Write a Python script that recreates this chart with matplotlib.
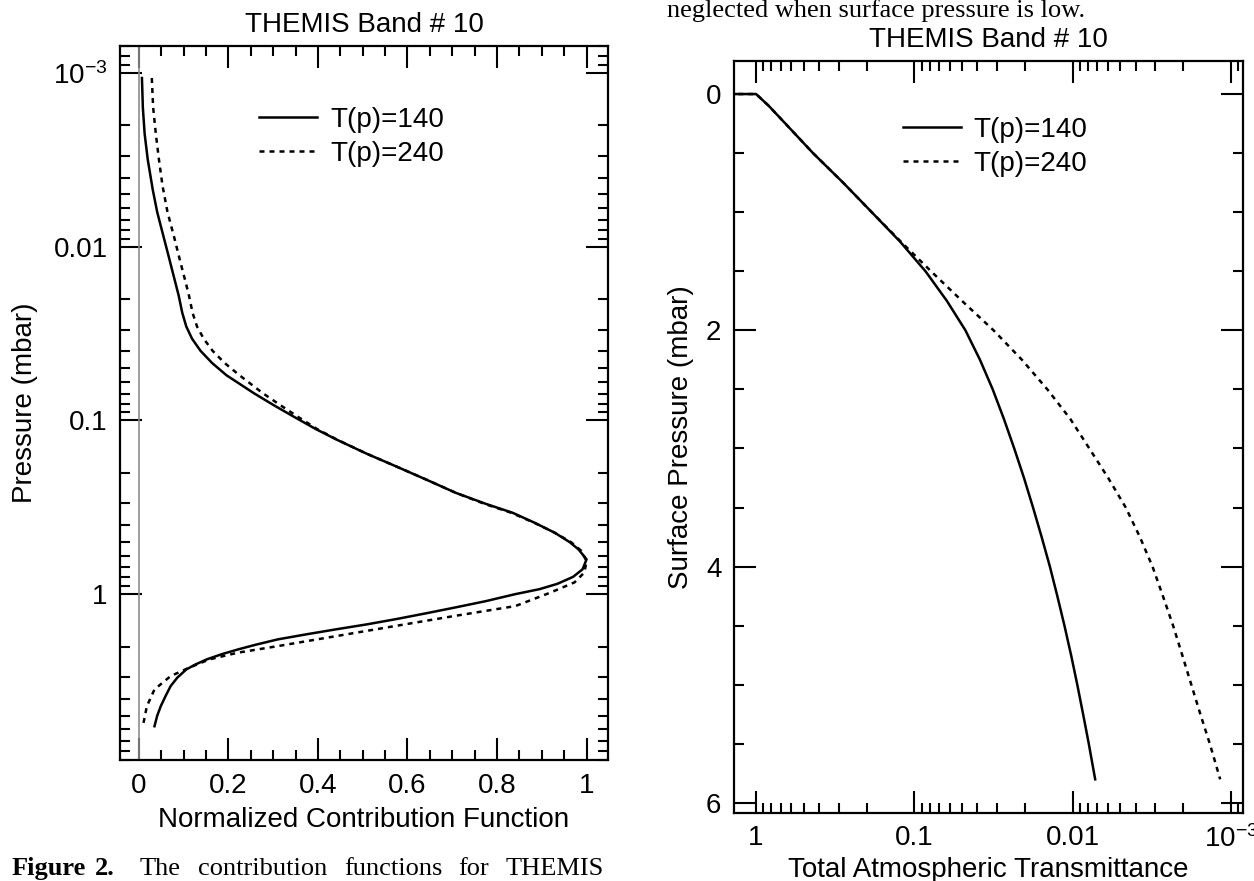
import matplotlib
matplotlib.use('Agg')
import matplotlib.pyplot as plt
from matplotlib.ticker import FixedLocator, FixedFormatter, MultipleLocator, LogLocator, NullFormatter

plt.rcParams['font.family'] = ['Liberation Sans', 'DejaVu Sans']
plt.rcParams['mathtext.fontset'] = 'custom'
plt.rcParams['mathtext.rm'] = 'Liberation Sans'
plt.rcParams['mathtext.it'] = 'Liberation Sans:italic'
plt.rcParams['axes.unicode_minus'] = False

# left panel: normalized contribution function vs pressure (mbar)
cf_p_140 = [1.07e-3, 1.58e-3, 2.24e-3, 3.16e-3, 4.68e-3, 6.31e-3, 8.32e-3, 0.0112, 0.0148, 0.0191,
            0.0240, 0.0288, 0.0339, 0.0398, 0.0468, 0.0550, 0.0697, 0.0813, 0.0948, 0.112,
            0.129, 0.155, 0.184, 0.219, 0.261, 0.302, 0.340, 0.389, 0.443, 0.501,
            0.552, 0.630, 0.719, 0.794, 0.871, 0.935, 1.0, 1.096, 1.19, 1.29,
            1.39, 1.49, 1.59, 1.70, 1.82, 1.95, 2.07, 2.21, 2.37, 2.54,
            2.71, 3.02, 3.38, 3.89, 4.41, 5.01, 5.75]
cf_140 = [0.007, 0.009, 0.013, 0.020, 0.031, 0.041, 0.053, 0.066, 0.078, 0.089,
          0.097, 0.106, 0.119, 0.138, 0.164, 0.196, 0.257, 0.300, 0.345, 0.395,
          0.442, 0.508, 0.575, 0.642, 0.708, 0.775, 0.835, 0.885, 0.929, 0.962,
          0.982, 1.0, 0.991, 0.970, 0.935, 0.895, 0.84, 0.775, 0.708, 0.64,
          0.575, 0.51, 0.442, 0.375, 0.31, 0.262, 0.224, 0.186, 0.152, 0.126,
          0.106, 0.086, 0.071, 0.059, 0.049, 0.041, 0.035]

cf_p_240 = [1.07e-3, 1.58e-3, 2.24e-3, 3.16e-3, 4.47e-3, 6.31e-3, 9.04e-3, 0.0126, 0.0158, 0.0191,
            0.0240, 0.0288, 0.0339, 0.0398, 0.0468, 0.0550, 0.0697, 0.0813, 0.0948, 0.112,
            0.129, 0.155, 0.184, 0.219, 0.261, 0.302, 0.340, 0.389, 0.443, 0.501,
            0.562, 0.646, 0.750, 0.855, 0.977, 1.17, 1.33, 1.52, 1.74, 1.99,
            2.17, 2.37, 2.65, 2.96, 3.53, 4.41, 5.75]
cf_240 = [0.029, 0.032, 0.038, 0.045, 0.053, 0.064, 0.080, 0.094, 0.104, 0.112,
          0.120, 0.130, 0.145, 0.165, 0.192, 0.225, 0.277, 0.315, 0.354, 0.398,
          0.443, 0.508, 0.575, 0.642, 0.708, 0.772, 0.832, 0.884, 0.929, 0.965,
          0.988, 1.0, 0.995, 0.973, 0.92, 0.841, 0.708, 0.575, 0.442, 0.31,
          0.221, 0.158, 0.112, 0.071, 0.035, 0.018, 0.009]

# right panel: total transmittance vs surface pressure (mbar)
surf_p = [0.0, 0.0, 0.1, 0.25, 0.5, 0.75, 1.0, 1.25, 1.5, 1.75, 2.0, 2.25, 2.5, 2.75,
          3.0, 3.25, 3.5, 3.75, 4.0, 4.25, 4.5, 4.75, 5.0, 5.25, 5.5, 5.8]
trans_140 = [1.5, 1.0, 0.832, 0.653, 0.437, 0.282, 0.186, 0.123, 0.0851, 0.0624, 0.0476,
             0.0385, 0.0320, 0.0272, 0.0234, 0.0203, 0.0178, 0.0157, 0.01393, 0.0125,
             0.01127, 0.01023, 0.00935, 0.00859, 0.00791, 0.00721]
trans_240 = [1.5, 1.0, 0.832, 0.653, 0.437, 0.282, 0.186, 0.1216, 0.0785, 0.0501, 0.0316,
             0.0209, 0.01445, 0.01035, 0.00785, 0.00596, 0.00462, 0.00376, 0.00313, 0.00269,
             0.00232, 0.00203, 0.00178, 0.00156, 0.00136, 0.00117]

series_labels = ['T(p)=140', 'T(p)=240']
left_yticks = [1e-3, 1e-2, 0.1, 1]
left_yticklabels = ['$10^{-3}$', '0.01', '0.1', '1']
right_xticks = [1, 0.1, 0.01, 1e-3]
right_xticklabels = ['1', '0.1', '0.01', '$10^{-3}$']
right_yticks = [0, 2, 4, 6]

FS = 20
DOTTED = (0, (2, 2))


def style_axes(ax):
    for s in ax.spines.values():
        s.set_linewidth(1.6)
    ax.tick_params(which='major', direction='in', length=16, width=1.5,
                   top=True, right=True, labelsize=FS, pad=9)
    ax.tick_params(which='minor', direction='in', length=7, width=1.5,
                   top=True, right=True)


def add_legend(ax, anchor):
    ax.legend(loc='upper left', bbox_to_anchor=anchor, frameon=False,
              fontsize=FS, handlelength=2.1, handletextpad=0.45, labelspacing=0.3,
              borderpad=0, borderaxespad=0)


def contribution_panel(fig):
    ax = fig.add_axes([0.0957, 0.1373, 0.3892, 0.8105])
    ax.axvline(0, color='0.55', lw=1.2)
    ax.plot(cf_140, cf_p_140, color='black', lw=1.8, label=series_labels[0])
    ax.plot(cf_240, cf_p_240, color='black', lw=1.8, ls=DOTTED, label=series_labels[1])
    ax.set_yscale('log')
    ax.set_ylim(9.0, 7.0e-4)
    ax.set_xlim(-0.042, 1.048)
    ax.xaxis.set_minor_locator(MultipleLocator(0.05))
    ax.set_xticks([0, 0.2, 0.4, 0.6, 0.8, 1.0], ['0', '0.2', '0.4', '0.6', '0.8', '1'])
    ax.yaxis.set_major_locator(FixedLocator(left_yticks))
    ax.yaxis.set_major_formatter(FixedFormatter(left_yticklabels))
    ax.yaxis.set_minor_locator(LogLocator(base=10, subs=range(2, 10), numticks=50))
    ax.yaxis.set_minor_formatter(NullFormatter())
    style_axes(ax)
    ax.set_title('THEMIS Band # 10', fontsize=FS, pad=10)
    ax.set_xlabel('Normalized Contribution Function', fontsize=FS, labelpad=6)
    ax.set_ylabel('Pressure (mbar)', fontsize=FS)
    ax.yaxis.set_label_coords(-0.168, 0.5)
    add_legend(ax, (0.285, 0.915))
    return ax


def transmittance_panel(fig):
    ax = fig.add_axes([0.5853, 0.0772, 0.4059, 0.8536])
    ax.plot(trans_140, surf_p, color='black', lw=1.8, label=series_labels[0])
    ax.plot(trans_240, surf_p, color='black', lw=1.8, ls=DOTTED, label=series_labels[1])
    ax.set_xscale('log')
    ax.set_xlim(1.38, 8.4e-4)
    ax.set_ylim(6.085, -0.28)
    ax.xaxis.set_major_locator(FixedLocator(right_xticks))
    ax.xaxis.set_major_formatter(FixedFormatter(right_xticklabels))
    ax.xaxis.set_minor_locator(LogLocator(base=10, subs=range(2, 10), numticks=50))
    ax.xaxis.set_minor_formatter(NullFormatter())
    ax.yaxis.set_major_locator(FixedLocator(right_yticks))
    ax.yaxis.set_minor_locator(MultipleLocator(0.5))
    style_axes(ax)
    ax.set_title('THEMIS Band # 10', fontsize=FS, pad=10)
    ax.set_xlabel('Total Atmospheric Transmittance', fontsize=FS, labelpad=3)
    ax.set_ylabel('Surface Pressure (mbar)', fontsize=FS)
    ax.yaxis.set_label_coords(-0.079, 0.5)
    add_legend(ax, (0.332, 0.926))
    return ax


def page_text(fig):
    W = 1254.0
    serif = ['Liberation Serif', 'DejaVu Serif']
    fig.text(667 / W, 1 - 17 / 881, 'neglected when surface pressure is low.',
             family=serif, fontsize=19, va='baseline')
    words = [('Figure', 12, 'bold'), ('2.', 95, 'bold'), ('The', 140, 'normal'),
             ('contribution', 198, 'normal'), ('functions', 344, 'normal'),
             ('for', 458, 'normal'), ('THEMIS', 506, 'normal')]
    for w, x, wt in words:
        fig.text(x / W, 1 - 875 / 881, w, family=serif, fontsize=19,
                 fontweight=wt, va='baseline')


if __name__ == '__main__':
    fig = plt.figure(figsize=(12.54, 8.81), dpi=100)
    contribution_panel(fig)
    transmittance_panel(fig)
    page_text(fig)
    fig.savefig('out.png', dpi=100)
    plt.close(fig)
